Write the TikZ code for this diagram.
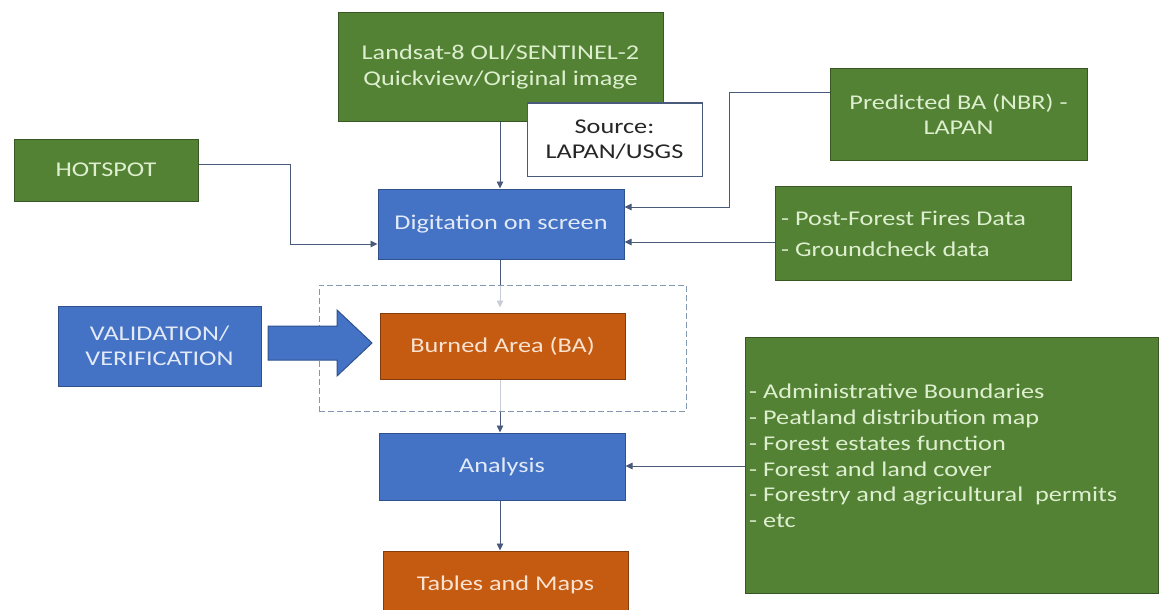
\documentclass[tikz,border=0pt]{standalone}
\usepackage{fontspec}
\setmainfont{Carlito}[FakeStretch=1.25]
\usetikzlibrary{arrows.meta,calc}
\definecolor{gfill}{HTML}{548235}
\definecolor{gline}{HTML}{385723}
\definecolor{gtext}{HTML}{DDEFCF}
\definecolor{bfill}{HTML}{4472C4}
\definecolor{bline}{HTML}{2F528F}
\definecolor{btext}{HTML}{E2EAF7}
\definecolor{ofill}{HTML}{C55A11}
\definecolor{oline}{HTML}{843C0C}
\definecolor{otext}{HTML}{FBE3D2}
\definecolor{cline}{HTML}{4A5A7A}
\definecolor{dline}{HTML}{8497B0}
\pgfdeclarelayer{bg}
\pgfdeclarelayer{mid}
\pgfsetlayers{bg,mid,main}
\tikzset{
  box/.style={draw, line width=1pt, inner sep=0pt, align=center,
    font=\fontsize{21}{25.5}\selectfont},
  gbox/.style={box, fill=gfill, draw=gline, text=gtext},
  bbox/.style={box, fill=bfill, draw=bline, text=btext},
  obox/.style={box, fill=ofill, draw=oline, text=otext},
  conn/.style={draw=cline, line width=0.9pt, -{Triangle[length=7pt,width=6.5pt]}},
}
\begin{document}
\begin{tikzpicture}[x=1pt,y=-1pt]
\useasboundingbox (0,0) rectangle (1160,610);
% boxes
\node[gbox, minimum width=325, minimum height=108] (landsat) at (500.5,67)
  {Landsat-8 OLI/SENTINEL-2\\Quickview/Original image};
\node[box, fill=white, draw=cline, text=black!85, minimum width=175, minimum height=73] (source) at (614.5,139.5)
  {Source:\\LAPAN/USGS};
\node[gbox, minimum width=257, minimum height=91] (pred) at (958.5,114.5)
  {Predicted BA (NBR) -\\LAPAN};
\node[gbox, minimum width=184, minimum height=62] (hotspot) at (106,170) {HOTSPOT};
\node[bbox, minimum width=246, minimum height=70] (digit) at (501,224) {Digitation on screen};
\node[gbox, minimum width=296, minimum height=94] (post) at (923,233) {};
\node[text=gtext, align=left, anchor=west, inner sep=0pt, font=\fontsize{21}{31}\selectfont] (posttext) at (781,234)
  {- Post-Forest Fires Data\\- Groundcheck data};
\node[bbox, minimum width=203, minimum height=80] (valid) at (159.5,346) {VALIDATION/\\VERIFICATION};
\begin{pgfonlayer}{mid}
\node[draw=dline, dash pattern=on 6pt off 3pt, line width=0.9pt, fill=white, fill opacity=0.7, draw opacity=1,
  minimum width=367, minimum height=126, inner sep=0pt] (frame) at (502.5,348) {};
\end{pgfonlayer}
\node[obox, minimum width=245, minimum height=66] (ba) at (502.5,346) {Burned Area (BA)};
\node[bbox, minimum width=246, minimum height=67] (anal) at (502,466.5) {Analysis};
\node[obox, minimum width=245, minimum height=68] (tables) at (505.5,585) {Tables and Maps};
\node[gbox, minimum width=413, minimum height=256] (data) at (951.5,465) {};
\node[text=gtext, align=left, anchor=west, inner sep=0pt, font=\fontsize{21}{25.8}\selectfont] (datatext) at (749,456)
  {- Administrative Boundaries\\- Peatland distribution map\\- Forest estates function\\- Forest and land cover\\- Forestry and agricultural\ \ permits\\- etc};
% block arrow
\draw[fill=bfill, draw=bline, line width=1pt]
  (268,326) -- (337,326) -- (337,310) -- (372,343) -- (337,376) -- (337,360) -- (268,360) -- cycle;
% connectors
\coordinate (hstart) at (198,164);
\coordinate (hbend) at (290,244);
\coordinate (pbend) at (729,92);
\begin{pgfonlayer}{bg}
\draw[conn] (landsat.south -| 500,0) -- (digit.north -| 500,0);
\draw[conn] (hstart -| hotspot.east) -| (hbend) -- (hbend -| digit.west);
\draw[conn] (pbend -| pred.west) -- (pbend) |- (digit.east |- 0,207);
\draw[conn] (post.west |- 0,242) -- (digit.east |- 0,242);
\draw[conn] (digit.south -| 500,0) -- ($(ba.north -| 500,0)+(0,-5)$);
\draw[conn] (ba.south -| 500,0) -- (anal.north -| 500,0);
\draw[conn] (anal.south -| 500,0) -- (tables.north -| 500,0);
\draw[conn] (data.west |- 0,466) -- (anal.east |- 0,466);
\end{pgfonlayer}
\end{tikzpicture}
\end{document}
